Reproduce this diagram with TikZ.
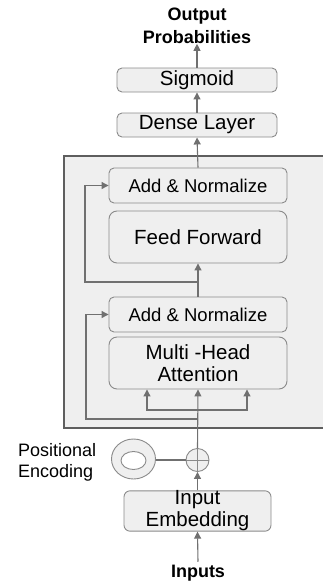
\documentclass[tikz,border=0pt]{standalone}
\usepackage{fontspec}
\setmainfont{Liberation Sans}
\usetikzlibrary{arrows.meta,shapes.geometric}

\definecolor{boxfill}{HTML}{EFEFEF}
\definecolor{boxline}{HTML}{8A8A8A}
\definecolor{arrowgray}{HTML}{707070}
\definecolor{stackline}{HTML}{5E5E5E}

\begin{document}
\begin{tikzpicture}[x=1pt,y=-1pt,
    layer/.style={draw=boxline, fill=boxfill, rounded corners=5pt, line width=0.9pt,
        inner sep=0pt, align=center, font=\fontsize{20.5}{22}\selectfont},
    flow/.style={draw=arrowgray, line width=1.1pt, -{Triangle[length=7pt,width=7pt]}},
    wire/.style={draw=arrowgray, line width=1.1pt},
    caption/.style={font=\bfseries\fontsize{18}{22.5}\selectfont, align=center, inner sep=0pt}]
        \useasboundingbox (0,0) rectangle (323,584);
        \clip (0,0) rectangle (323,584);

        % Draw the encoder stack (runs off the right edge)
        \draw[stackline, fill=boxfill, line width=1.8pt] (64,156) rectangle (340,428);

        % Define nodes on top
        \node[caption] (out) at (197,26) {Output\\Probabilities};
        \node[layer, minimum width=160pt, minimum height=24pt] (sigmoid) at (197,80) {Sigmoid};
        \node[layer, minimum width=160pt, minimum height=24pt] (dense) at (197,125) {Dense Layer};

        % Define nodes inside the stack
        \node[layer, minimum width=178pt, minimum height=35pt, font=\fontsize{18.5}{22}\selectfont] (addtop) at (198,185.5) {Add \& Normalize};
        \node[layer, minimum width=178pt, minimum height=52pt, rounded corners=8pt] (ff) at (198,237) {Feed Forward};
        \node[layer, minimum width=178pt, minimum height=35pt, font=\fontsize{18.5}{22}\selectfont] (addbot) at (198,314.5) {Add \& Normalize};
        \node[layer, minimum width=178pt, minimum height=52pt, rounded corners=8pt] (mha) at (198,363) {Multi -Head\\Attention};

        % Define nodes below the stack
        \node[circle, draw=boxline, fill=boxfill, line width=0.9pt, minimum size=23pt, inner sep=0pt,
            path picture={\draw[boxline, line width=0.9pt]
                (path picture bounding box.north) -- (path picture bounding box.south)
                (path picture bounding box.west) -- (path picture bounding box.east);}] (plus) at (197.5,460) {};
        \draw[boxline, fill=boxfill, line width=0.9pt] (133.5,459) ellipse (22pt and 20pt);
        \draw[boxline, fill=white, line width=0.9pt] (133.5,460.5) ellipse (12.5pt and 9pt);
        \coordinate (pe) at (155.5,460);
        \node[align=left, inner sep=0pt, font=\fontsize{18}{21}\selectfont, anchor=west] (pelabel) at (18,462) {Positional\\Encoding};
        \node[layer, minimum width=147pt, minimum height=36pt, rounded corners=6pt] (emb) at (197.5,511) {Input\\Embedding};
        \node[caption] (inputs) at (198,573) {Inputs};

        % Connect input side
        \draw[flow] (inputs.north) ++(0,-3) -- (emb.south);
        \draw[flow] (emb.north) -- (plus.south);
        \draw[wire] (pe) -- (plus.west);
        \draw[flow] (plus.north) -- (mha.south);

        % Three inputs into attention
        \coordinate (qkv) at (198,410);
        \draw[flow] (qkv) -- ++(-51,0) -- (mha.south -| 147,0);
        \draw[flow] (qkv) -- ++(49,0) -- (mha.south -| 247,0);

        % Residual paths
        \draw[flow] (198,419) -- (86,419) -- (addbot.west -| 86,0) -- (addbot.west);
        \draw[flow] (addbot.north) -- (ff.south);
        \draw[flow] (198,282) -- (85,282) -- (addtop.west -| 85,0) -- (addtop.west);

        % Head
        \draw[flow] (addtop.north) -- (dense.south);
        \draw[flow] (dense.north) -- (sigmoid.south);
        \draw[flow] (sigmoid.north) -- (out.south);

    \end{tikzpicture}
\end{document}
